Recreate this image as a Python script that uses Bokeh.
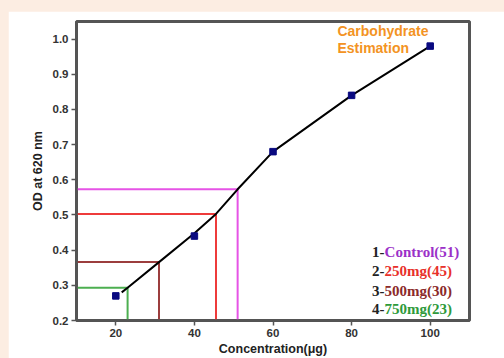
from bokeh.plotting import figure
from bokeh.models import Range1d, FixedTicker, PrintfTickFormatter, Label, Spacer
from bokeh.layouts import column, row
from bokeh.embed import file_html
from bokeh.resources import INLINE

# Standard curve data
conc = [20, 40, 60, 80, 100]
od = [0.27, 0.44, 0.68, 0.84, 0.98]

# fitted curve as drawn
fit_x = [21.5, 23, 31, 40, 45.5, 51, 60, 80, 100]
fit_y = [0.28, 0.293, 0.366, 0.448, 0.503, 0.573, 0.68, 0.84, 0.98]

# samples
sample_num = ["1-", "2-", "3-", "4-"]
sample_names = ["Control", "250mg", "500mg", "750mg"]
sample_label_vals = [51, 45, 30, 23]
sample_conc = [51, 45.5, 31, 23]
sample_od = [0.573, 0.503, 0.366, 0.293]
line_colors = ["#e653e6", "#ee3b3b", "#9c3d3d", "#4caf50"]
text_colors = ["#9b30c8", "#e8302a", "#8b2a2a", "#2e9a3a"]

x_ticks = [20, 40, 60, 80, 100]
y_ticks = [0.2, 0.3, 0.4, 0.5, 0.6, 0.7, 0.8, 0.9, 1.0]

X0, X1 = 10, 110
Y0, Y1 = 0.2, 1.05

p = figure(width=496, height=347, output_backend="svg", toolbar_location=None,
           x_range=Range1d(X0, X1), y_range=Range1d(Y0, Y1),
           min_border_left=68, min_border_top=10, min_border_right=35, min_border_bottom=36)
p.background_fill_color = "white"
p.border_fill_color = "white"
p.grid.visible = False
p.outline_line_color = "#555555"
p.outline_line_width = 3

for ax in (p.xaxis[0], p.yaxis[0]):
    ax.axis_line_color = "#555555"
    ax.axis_line_width = 2.5
    ax.major_tick_line_color = "#555555"
    ax.major_tick_line_width = 1.5
    ax.major_tick_out = 5
    ax.major_tick_in = 0
    ax.minor_tick_line_color = None
    ax.major_label_text_font = "Liberation Sans"
    ax.major_label_text_font_style = "bold"
    ax.major_label_text_font_size = "11.5px"
    ax.major_label_text_color = "#333333"
    ax.axis_label_text_font = "Liberation Sans"
    ax.axis_label_text_font_style = "bold"
    ax.axis_label_text_font_size = "12.5px"
    ax.axis_label_text_color = "#222222"

p.xaxis.ticker = FixedTicker(ticks=x_ticks)
p.yaxis.ticker = FixedTicker(ticks=y_ticks)
p.yaxis.formatter = PrintfTickFormatter(format="%.1f")
p.xaxis.axis_label = "Concentration(μg)"
p.yaxis.axis_label = "OD at 620 nm"
p.xaxis.major_label_standoff = 3
p.xaxis.axis_label_standoff = 2
p.yaxis.major_label_standoff = 3
p.yaxis.axis_label_standoff = 5

# reference lines
for xv, yv, c in zip(sample_conc, sample_od, line_colors):
    p.line([X0, xv, xv], [yv, yv, Y0], line_color=c, line_width=2)

# fitted curve
p.line(fit_x, fit_y, line_color="black", line_width=2)
p.scatter(conc, od, marker="square", size=6.5, fill_color="#0a0a80", line_color="#0a0a80")

# title
p.add_layout(Label(x=76.4, y=1.023, text="Carbohydrate", text_align="left", text_baseline="middle",
                   text_font="Liberation Sans", text_font_style="bold", text_font_size="14px",
                   text_color="#f39323"))
p.add_layout(Label(x=76.4, y=0.975, text="Estimation", text_align="left", text_baseline="middle",
                   text_font="Liberation Sans", text_font_style="bold", text_font_size="14px",
                   text_color="#f39323"))

# legend-like labels
leg_x = 88.4
leg_y = [0.395, 0.341, 0.285, 0.234]
for n, name, v, c, yy in zip(sample_num, sample_names, sample_label_vals, text_colors, leg_y):
    p.add_layout(Label(x=leg_x, y=yy, text=n, text_align="right", text_baseline="middle",
                       text_font="Liberation Serif", text_font_style="bold", text_font_size="15px",
                       text_color="#222222"))
    p.add_layout(Label(x=leg_x, y=yy, text=f"{name}({v})", text_align="left", text_baseline="middle",
                       text_font="Liberation Serif", text_font_style="bold", text_font_size="15px",
                       text_color=c))

layout = column(Spacer(width=504, height=11),
                row(Spacer(width=8, height=347), p, width=504, height=347),
                width=504, height=358,
                styles={"background-color": "#fcede2"})

open("out.html", "w").write(file_html(layout, INLINE))
